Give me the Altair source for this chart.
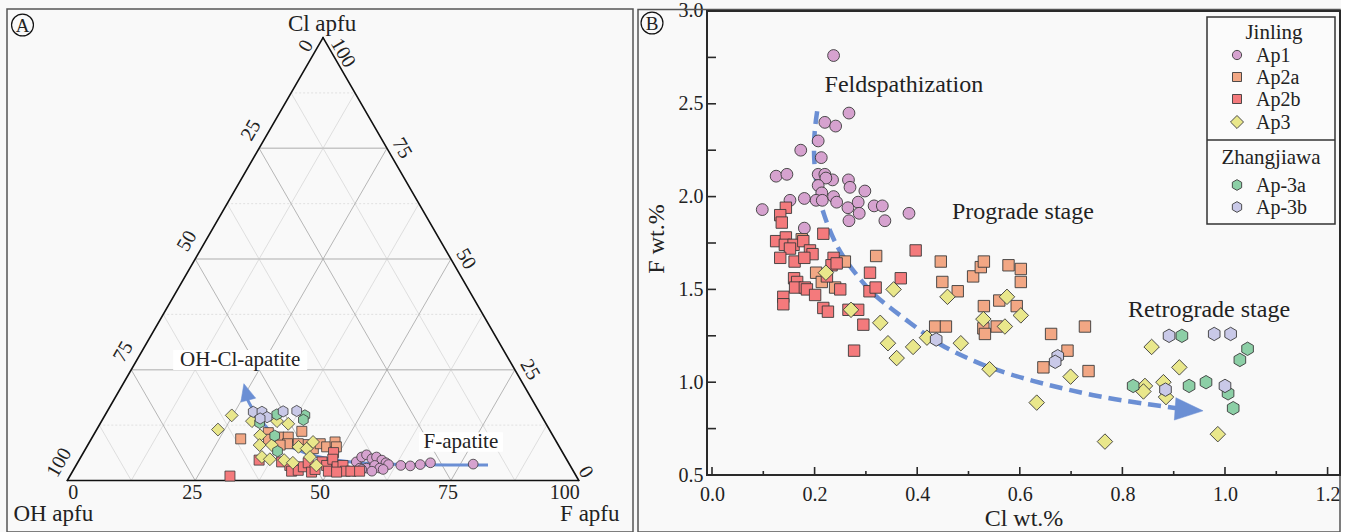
import altair as alt
import pandas as pd

# ---------------- data: panel B (Cl wt.% vs F wt.%) ----------------
SERIES = ["Ap1", "Ap2a", "Ap2b", "Ap3", "Ap-3a", "Ap-3b"]
GROUP_NAMES = ["Jinling", "Zhangjiawa"]

AP1_CL = [0.237, 0.267, 0.220, 0.241, 0.207, 0.173, 0.213, 0.125, 0.146, 0.207, 0.220, 0.235,
          0.222, 0.266, 0.269, 0.207, 0.298, 0.214, 0.152, 0.180, 0.203, 0.215, 0.237, 0.243,
          0.098, 0.265, 0.285, 0.316, 0.332, 0.287, 0.267, 0.337, 0.384, 0.180]
AP1_F = [2.76, 2.45, 2.40, 2.38, 2.30, 2.25, 2.21, 2.11, 2.12, 2.12, 2.12, 2.09,
         2.10, 2.09, 2.05, 2.06, 2.03, 2.02, 1.98, 1.99, 1.98, 1.98, 2.00, 1.97,
         1.93, 1.94, 1.97, 1.95, 1.95, 1.91, 1.87, 1.87, 1.91, 1.83]

AP2A_CL = [0.175, 0.203, 0.214, 0.240, 0.259, 0.320, 0.446, 0.449, 0.479, 0.435, 0.456, 0.509,
           0.524, 0.530, 0.578, 0.602, 0.602, 0.530, 0.529, 0.532, 0.560, 0.555, 0.594, 0.661,
           0.693, 0.646, 0.727, 0.734]
AP2A_F = [1.77, 1.59, 1.54, 1.51, 1.65, 1.68, 1.65, 1.54, 1.49, 1.30, 1.30, 1.57,
          1.62, 1.65, 1.63, 1.61, 1.54, 1.41, 1.29, 1.26, 1.44, 1.30, 1.41, 1.26,
          1.17, 1.08, 1.30, 1.06]

AP2B_CL = [0.144, 0.133, 0.136, 0.217, 0.125, 0.144, 0.142, 0.159, 0.152, 0.178, 0.191, 0.196,
           0.133, 0.161, 0.180, 0.237, 0.233, 0.243, 0.224, 0.160, 0.166, 0.162, 0.181, 0.185,
           0.201, 0.139, 0.139, 0.217, 0.226, 0.250, 0.308, 0.307, 0.319, 0.368, 0.397, 0.285,
           0.266, 0.295, 0.277]
AP2B_F = [1.94, 1.90, 1.86, 1.80, 1.76, 1.78, 1.74, 1.74, 1.72, 1.76, 1.71, 1.69,
          1.67, 1.65, 1.67, 1.67, 1.63, 1.64, 1.57, 1.56, 1.54, 1.51, 1.51, 1.50,
          1.47, 1.46, 1.42, 1.40, 1.38, 1.50, 1.59, 1.49, 1.51, 1.56, 1.71, 1.39,
          1.39, 1.31, 1.17]

AP3_CL = [0.222, 0.354, 0.271, 0.328, 0.343, 0.360, 0.392, 0.419, 0.459, 0.485, 0.541, 0.529,
          0.571, 0.575, 0.602, 0.633, 0.699, 0.766, 0.857, 0.911, 0.844, 0.841, 0.880, 0.885,
          0.986]
AP3_F = [1.59, 1.50, 1.39, 1.32, 1.21, 1.13, 1.19, 1.24, 1.46, 1.21, 1.07, 1.34,
         1.30, 1.46, 1.36, 0.89, 1.03, 0.68, 1.19, 1.08, 0.98, 0.95, 1.00, 0.92,
         0.72]

AP3A_CL = [0.916, 1.044, 1.029, 0.821, 0.930, 0.963, 1.006, 1.016]
AP3A_F = [1.25, 1.18, 1.12, 0.98, 0.98, 1.00, 0.94, 0.86]

AP3B_CL = [0.891, 0.979, 1.011, 0.884, 1.000, 0.674, 0.669, 0.437]
AP3B_F = [1.25, 1.26, 1.26, 0.96, 0.98, 1.14, 1.11, 1.23]

# trend (dashed arrow) in panel B
TREND_CL = [0.205, 0.197, 0.201, 0.217, 0.244, 0.275, 0.314, 0.353, 0.400, 0.444, 0.497,
            0.548, 0.620, 0.692, 0.776, 0.854, 0.912]
TREND_F = [2.46, 2.30, 2.08, 1.90, 1.72, 1.60, 1.47, 1.39, 1.29, 1.20, 1.13,
           1.07, 1.01, 0.96, 0.91, 0.88, 0.857]
TREND_HEAD = (0.930, 0.851)

# ---------------- data: panel A (ternary, apfu %; OH = 100 - F - Cl) ----------------
T_AP1_F = [54.4, 54.9, 55.6, 57.1, 57.8, 59.2, 60.3, 55.8, 57.1, 58.4, 59.7, 61.0, 54.9, 56.3,
           63.5, 65.4, 67.2, 69.0, 77.5, 60.5, 58.5]
T_AP1_CL = [4.2, 5.3, 5.8, 4.9, 5.3, 4.6, 4.0, 2.8, 2.8, 3.4, 2.8, 3.6, 2.1, 2.5,
            3.4, 3.3, 3.6, 4.0, 3.7, 2.5, 2.1]
T_AP2A_F = [29.2, 33.9, 34.7, 36.5, 38.3, 38.9, 40.3, 42.8, 44.5, 45.3, 46.9, 48.0, 48.8, 37.6, 41.0]
T_AP2A_CL = [9.4, 10.8, 9.3, 9.8, 9.8, 8.3, 11.1, 8.1, 7.2, 8.3, 7.6, 8.7, 7.6, 8.0, 8.3]
T_AP2B_F = [31.3, 35.2, 39.8, 41.8, 42.8, 44.0, 44.6, 45.1, 46.8, 47.2, 47.7, 49.0, 50.0, 48.9,
            49.5, 51.2, 52.2, 53.3, 54.4, 56.1, 51.7]
T_AP2B_CL = [1.0, 4.6, 4.2, 3.4, 2.1, 2.3, 3.1, 4.0, 1.9, 2.5, 4.2, 3.4, 2.1, 6.3,
             4.8, 3.1, 3.4, 2.1, 2.1, 2.1, 1.9]
T_AP3_F = [23.7, 24.8, 29.4, 32.6, 33.6, 35.4, 37.2, 34.3, 36.8, 40.1, 42.1, 41.4, 43.2, 44.8,
           47.0, 43.7, 36.0]
T_AP3_CL = [11.5, 14.7, 13.4, 10.2, 8.0, 5.3, 4.8, 13.4, 12.8, 4.6, 4.0, 7.6, 7.2, 5.3,
            3.4, 8.7, 8.0]
T_AP3A_F = [33.5, 39.1, 39.3, 31.1, 35.5, 37.8]
T_AP3A_CL = [14.9, 14.7, 13.7, 13.0, 10.1, 6.6]
T_AP3B_F = [28.6, 30.3, 31.9, 34.4, 37.0, 30.7]
T_AP3B_CL = [15.5, 15.5, 14.3, 15.6, 15.7, 14.0]

# trend arrow in ternary
T_ARROW_F = [80.5, 52.9, 42.8, 36.7, 31.5, 27.6, 25.8]
T_ARROW_CL = [3.5, 3.5, 6.2, 8.9, 13.2, 16.6, 18.6]
T_ARROW_HEAD = (24.95, 20.0)

# ticks
X_TICKS_B = [0.0, 0.2, 0.4, 0.6, 0.8, 1.0, 1.2]
X_MINOR_B = [0.1, 0.3, 0.5, 0.7, 0.9, 1.1]
Y_TICKS_B = [0.5, 1.0, 1.5, 2.0, 2.5, 3.0]
Y_MINOR_B = [0.75, 1.25, 1.75, 2.25, 2.75]
TERN_TICKS = [0, 25, 50, 75, 100]
TERN_GRID = [12.5, 25, 37.5, 50, 62.5, 75, 87.5]

B_DATA = {"Ap1": (AP1_CL, AP1_F), "Ap2a": (AP2A_CL, AP2A_F), "Ap2b": (AP2B_CL, AP2B_F),
          "Ap3": (AP3_CL, AP3_F), "Ap-3a": (AP3A_CL, AP3A_F), "Ap-3b": (AP3B_CL, AP3B_F)}
A_DATA = {"Ap1": (T_AP1_F, T_AP1_CL), "Ap2a": (T_AP2A_F, T_AP2A_CL), "Ap2b": (T_AP2B_F, T_AP2B_CL),
          "Ap3": (T_AP3_F, T_AP3_CL), "Ap-3a": (T_AP3A_F, T_AP3A_CL), "Ap-3b": (T_AP3B_F, T_AP3B_CL)}

# ---------------- styles ----------------
FONT = "Liberation Serif"
INK = "#222222"
BG = "#f9f9f9"
BLUE = "#6b8fd4"
EDGE = "#3a3a3a"
HEX = "M0,-1L0.866,-0.5L0.866,0.5L0,1L-0.866,0.5L-0.866,-0.5Z"
STYLE = {
    "Ap1": {"shape": "circle", "fill": "#d6a2cf", "sA": 95, "sB": 140, "sL": 85},
    "Ap2a": {"shape": "square", "fill": "#f2a784", "sA": 100, "sB": 130, "sL": 81},
    "Ap2b": {"shape": "square", "fill": "#f47a7c", "sA": 100, "sB": 130, "sL": 81},
    "Ap3": {"shape": "diamond", "fill": "#e9e78b", "sA": 165, "sB": 240, "sL": 170},
    "Ap-3a": {"shape": HEX, "fill": "#8ccfa6", "sA": 125, "sB": 180, "sL": 115},
    "Ap-3b": {"shape": HEX, "fill": "#c9c9e8", "sA": 125, "sB": 180, "sL": 115},
}


def deco():
    return alt.Chart(pd.DataFrame({"d": [0]}))


def box(x1, x2, y1, y2, stroke, width, fill=None):
    if fill:
        m = deco().mark_rect(fill=fill, stroke=stroke, strokeWidth=width)
    else:
        m = deco().mark_rect(fill="#ffffff", fillOpacity=0, stroke=stroke, strokeWidth=width)
    return m.encode(x=alt.value(x1), x2=alt.value(x2), y=alt.value(y1), y2=alt.value(y2))


def px_text(text, x, y, size, **kw):
    return deco().mark_text(text=text, font=FONT, fontSize=size, color=INK, **kw).encode(
        x=alt.value(x), y=alt.value(y))


# ================= Panel A: ternary =================
W_A, H_A = 638, 532
PX = 511.5          # pixels per unit triangle side
X0, Y0 = 67.3, 478.5  # OH vertex in pixels
S3 = 3 ** 0.5 / 2

xA = alt.X("tx:Q", scale=alt.Scale(domain=[-X0 / PX, (W_A - X0) / PX], nice=False, zero=False), axis=None)
yA = alt.Y("ty:Q", scale=alt.Scale(domain=[(Y0 - H_A) / PX, Y0 / PX], nice=False, zero=False), axis=None)
CALC1 = dict(tx="datum.F/100 + datum.Cl/200", ty="datum.Cl/100*sqrt(3)/2")
CALC2 = dict(tx="datum.F/100 + datum.Cl/200", ty="datum.Cl/100*sqrt(3)/2",
             tx2="datum.F2/100 + datum.Cl2/200", ty2="datum.Cl2/100*sqrt(3)/2")


def cart(F, Cl):
    return F / 100 + Cl / 200, Cl / 100 * S3


rows = []
for v in TERN_GRID:
    major = (v % 25 == 0)
    rows.append(dict(fam="Cl", major=major, F=0, Cl=v, F2=100 - v, Cl2=v))
    rows.append(dict(fam="F", major=major, F=v, Cl=0, F2=v, Cl2=100 - v))
    rows.append(dict(fam="OH", major=major, F=100 - v, Cl=0, F2=0, Cl2=100 - v))
grid = pd.DataFrame(rows)


def rules(df, **kw):
    return alt.Chart(df).transform_calculate(**CALC2).mark_rule(**kw).encode(
        x=xA, y=yA, x2=alt.X2("tx2:Q"), y2=alt.Y2("ty2:Q"))


layersA = [box(7, 633, 7, 530, "#555555", 1.5)]
diag = grid[grid.fam != "Cl"]
horiz = grid[grid.fam == "Cl"]
layersA.append(rules(diag[~diag.major], color="#d2d2d2", strokeWidth=0.7))
layersA.append(rules(horiz[~horiz.major], color="#dadada", strokeWidth=0.8, strokeDash=[2, 2]))
layersA.append(rules(horiz[horiz.major], color="#c6c6c6", strokeWidth=1.4))
layersA.append(rules(diag[diag.major], color="#a4a4a4", strokeWidth=0.8))

edges = pd.DataFrame([dict(F=0, Cl=0, F2=100, Cl2=0), dict(F=100, Cl=0, F2=0, Cl2=100),
                      dict(F=0, Cl=100, F2=0, Cl2=0)])
layersA.append(rules(edges, color="#111111", strokeWidth=1.6, strokeCap="round"))

# tick labels
lab_rows = []
for v in TERN_TICKS:
    for edge in ("bottom", "left", "right"):
        if edge == "bottom":
            F, Cl = v, 0
            off = {0: (6, 12), 100: (-14, 12)}.get(v, (-3, 12))
        elif edge == "left":
            F, Cl = 0, 100 - v
            off = {0: (-17, 8.5)}.get(v, (-8, -18))
        else:
            F, Cl = 100 - v, v
            off = {100: (20, 15.5), 0: (7, -8.5)}.get(v, (15, 0))
        bx, by = cart(F, Cl)
        lab_rows.append(dict(edge=edge, txt=str(v), tx=bx + off[0] / PX, ty=by - off[1] / PX))
labs = pd.DataFrame(lab_rows)
for edge, ang in (("bottom", 0), ("left", 300), ("right", 60)):
    layersA.append(alt.Chart(labs[labs.edge == edge]).mark_text(
        font=FONT, fontSize=20, color=INK, angle=ang, baseline="middle", align="center").encode(
        x=xA, y=yA, text="txt:N"))

# vertex titles
vt = []
for name, (F, Cl), off in (("Cl apfu", (0, 100), (-1, -13.5)), ("OH apfu", (0, 0), (-14, 33.5)),
                           ("F apfu", (100, 0), (11, 33.5))):
    bx, by = cart(F, Cl)
    vt.append(dict(txt=name, tx=bx + off[0] / PX, ty=by - off[1] / PX))
layersA.append(alt.Chart(pd.DataFrame(vt)).mark_text(
    font=FONT, fontSize=23, color=INK, baseline="middle").encode(x=xA, y=yA, text="txt:N"))

# trend arrow (under points)
arrA = pd.DataFrame({"F": T_ARROW_F, "Cl": T_ARROW_CL, "i": range(len(T_ARROW_F))})
layersA.append(alt.Chart(arrA).transform_calculate(**CALC1).mark_line(
    color=BLUE, strokeWidth=3, interpolate="basis").encode(x=xA, y=yA, order="i:Q"))
layersA.append(alt.Chart(pd.DataFrame({"F": [T_ARROW_HEAD[0]], "Cl": [T_ARROW_HEAD[1]]}))
               .transform_calculate(**CALC1)
               .mark_point(shape="M0,-1L0.9,1L-0.9,1Z", filled=True, fill=BLUE, stroke=BLUE,
                           strokeWidth=0.5, size=289, angle=345, opacity=1)
               .encode(x=xA, y=yA))

# points
for s in SERIES:
    st = STYLE[s]
    F, Cl = A_DATA[s]
    layersA.append(alt.Chart(pd.DataFrame({"F": F, "Cl": Cl})).transform_calculate(**CALC1)
                   .mark_point(shape=st["shape"], filled=True, fill=st["fill"], stroke=EDGE,
                               strokeWidth=0.8, size=st["sA"], opacity=1)
                   .encode(x=xA, y=yA))

# annotation labels with white boxes
annA = pd.DataFrame({"F": [20.2, 72.6], "Cl": [27.2, 8.7], "txt": ["OH-Cl-apatite", "F-apatite"]})
layersA.append(alt.Chart(annA.iloc[[0]]).transform_calculate(**CALC1).mark_point(
    shape="M-1,-0.15L1,-0.15L1,0.15L-1,0.15Z", filled=True, fill="#ffffff", strokeWidth=0,
    size=134 * 134, opacity=1).encode(x=xA, y=yA))
layersA.append(alt.Chart(annA.iloc[[1]]).transform_calculate(**CALC1).mark_point(
    shape="M-1,-0.232L1,-0.232L1,0.232L-1,0.232Z", filled=True, fill="#ffffff", strokeWidth=0,
    size=84 * 84, opacity=1).encode(x=xA, y=yA))
layersA.append(alt.Chart(annA).transform_calculate(**CALC1).mark_text(
    font=FONT, fontSize=21, color=INK, baseline="middle").encode(x=xA, y=yA, text="txt:N"))

# panel letter
layersA.append(deco().mark_point(shape="circle", filled=False, stroke="#111111", strokeWidth=1.2,
                                 size=480, opacity=1).encode(x=alt.value(22.5), y=alt.value(23)))
layersA.append(px_text("A", 22.5, 24, 19, baseline="middle"))

panelA = alt.layer(*layersA).properties(width=W_A, height=H_A)

# ================= Panel B: scatter =================
W_B, H_B = 633, 473
PXY = 185.7
xB = alt.X("Cl:Q", scale=alt.Scale(domain=[-0.00975, 1.2242], nice=False, zero=False),
           axis=alt.Axis(values=X_TICKS_B, format=".1f", ticks=False, domain=False, grid=False,
                         labelFont=FONT, labelFontSize=20, labelColor=INK, labelPadding=9,
                         labelFlush=False, labelOverlap=False,
                         title="Cl wt.%", titleFont=FONT, titleFontSize=24, titleFontWeight="normal",
                         titleColor=INK, titlePadding=2))
yB = alt.Y("F:Q", scale=alt.Scale(domain=[0.5, 3.0 + 9 / PXY], nice=False, zero=False),
           axis=alt.Axis(values=Y_TICKS_B, format=".1f", ticks=False, domain=False, grid=False,
                         labelFont=FONT, labelFontSize=20, labelColor=INK, labelPadding=4,
                         labelOverlap=False,
                         title="F wt.%", titleFont=FONT, titleFontSize=24, titleFontWeight="normal",
                         titleColor=INK, titlePadding=10))

layersB = [box(-69, 633, 7.5, 530, "#555555", 1.5)]

# trend
trend = pd.DataFrame({"Cl": TREND_CL, "F": TREND_F, "i": range(len(TREND_CL))})
layersB.append(alt.Chart(trend).mark_line(color=BLUE, strokeWidth=4.5, strokeDash=[13, 7],
                                          interpolate="basis").encode(x=xB, y=yB, order="i:Q"))
layersB.append(alt.Chart(pd.DataFrame({"Cl": [TREND_HEAD[0]], "F": [TREND_HEAD[1]]})).mark_point(
    shape="M1,0L-1,-0.8L-1,0.8Z", filled=True, fill=BLUE, stroke=BLUE, strokeWidth=0.5,
    size=784, angle=4, opacity=1).encode(x=xB, y=yB))

for s in SERIES:
    st = STYLE[s]
    cl, f = B_DATA[s]
    layersB.append(alt.Chart(pd.DataFrame({"Cl": cl, "F": f})).mark_point(
        shape=st["shape"], filled=True, fill=st["fill"], stroke=EDGE, strokeWidth=0.9,
        size=st["sB"], opacity=1).encode(x=xB, y=yB))

# stage labels
stages = pd.DataFrame({"Cl": [0.374, 0.606, 0.969], "F": [2.564, 1.880, 1.352],
                       "txt": ["Feldspathization", "Prograde stage", "Retrograde stage"]})
layersB.append(alt.Chart(stages).mark_text(font=FONT, fontSize=24, color=INK,
                                           baseline="alphabetic").encode(x=xB, y=yB, text="txt:N"))

# frame and inward ticks
layersB.append(box(0, W_B, 9, H_B, "#2a2a2a", 2))
layersB.append(alt.Chart(pd.DataFrame({"Cl": X_TICKS_B})).mark_rule(color="#2a2a2a", strokeWidth=1.6)
               .encode(x=xB, y=alt.value(H_B), y2=alt.value(H_B - 8)))
layersB.append(alt.Chart(pd.DataFrame({"Cl": X_MINOR_B})).mark_rule(color="#2a2a2a", strokeWidth=1.6)
               .encode(x=xB, y=alt.value(H_B), y2=alt.value(H_B - 4)))
layersB.append(alt.Chart(pd.DataFrame({"F": Y_TICKS_B + Y_MINOR_B})).mark_rule(color="#2a2a2a", strokeWidth=1.6)
               .encode(y=yB, x=alt.value(0), x2=alt.value(9)))

# legend
layersB.append(box(500, 628, 15, 222, "#333333", 1.5, fill="#fbfbfb"))
layersB.append(deco().mark_rule(color="#333333", strokeWidth=1.5).encode(
    x=alt.value(500), x2=alt.value(628), y=alt.value(138)))
layersB.append(px_text(GROUP_NAMES[0], 567, 31, 21, baseline="middle"))
layersB.append(px_text(GROUP_NAMES[1], 564, 156, 21, baseline="middle"))
LEG_Y = [53, 75, 97, 120, 183, 205]
for s, ly in zip(SERIES, LEG_Y):
    st = STYLE[s]
    layersB.append(deco().mark_point(shape=st["shape"], filled=True, fill=st["fill"], stroke=EDGE,
                                     strokeWidth=0.9, size=st["sL"], opacity=1)
                   .encode(x=alt.value(530), y=alt.value(ly)))
    layersB.append(px_text(s, 549, ly + 1, 20, baseline="middle", align="left"))

# panel letter
layersB.append(deco().mark_point(shape="circle", filled=False, stroke="#111111", strokeWidth=1.2,
                                 size=480, opacity=1).encode(x=alt.value(-55), y=alt.value(21)))
layersB.append(px_text("B", -55, 22, 19, baseline="middle"))

panelB = alt.layer(*layersB).properties(width=W_B, height=H_B)

chart = alt.hconcat(panelA, panelB, spacing=69, bounds="flush").properties(
    padding=0, background=BG).configure_view(stroke=None)

chart.save("out.html", embed_options={"renderer": "svg", "actions": False})
